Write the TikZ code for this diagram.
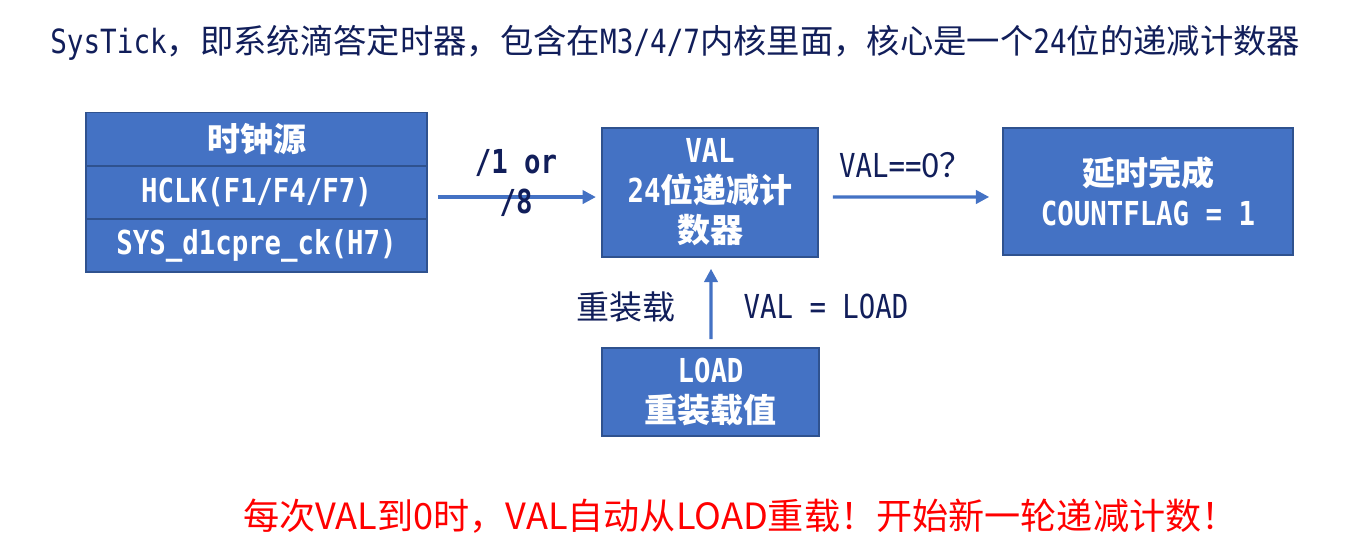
\documentclass[tikz,border=0pt]{standalone}
\usepackage{fontspec}
\setmainfont[FakeStretch=0.83]{DejaVu Sans Mono}
\newfontfamily\cjk{Noto Sans CJK SC}
\usetikzlibrary{arrows.meta}
\definecolor{boxblue}{HTML}{4472C4}
\definecolor{boxedge}{HTML}{2F528F}
\definecolor{navy}{HTML}{111E5A}
\newcommand\myfs{\fontsize{24.75pt}{30pt}\selectfont}
\newcommand\titlefs{\fontsize{25pt}{30pt}\selectfont}
\newcommand\bigfs{\fontsize{27.1pt}{33pt}\selectfont}
\tikzset{
  box/.style={draw=boxedge, line width=1.2pt, fill=boxblue, text=white, font=\myfs\bfseries, align=center, inner sep=0pt},
  arr/.style={draw=boxblue, line width=2.4pt, -{Triangle[length=10pt,width=10pt]}},
  lbl/.style={text=navy, font=\myfs, align=center, inner sep=0pt},
}
\begin{document}
\begin{tikzpicture}[x=0.75pt,y=-0.75pt]
\useasboundingbox (0,0) rectangle (1360,551);
% title
\node[lbl, anchor=west, font=\titlefs] (title) at (50,43) {SysTick{\cjk ，即系统滴答定时器，包含在}M3/4/7{\cjk 内核里面，核心是一个}24{\cjk 位的递减计数器}};
% clock source table
\node[box, minimum width=255.75pt, minimum height=40pt] (r1) at (256.5,139) {{\cjk 时钟源}};
\node[box, minimum width=255.75pt, minimum height=40pt] (r2) at (256.5,192.5) {HCLK(F1/F4/F7)};
\node[box, minimum width=255.75pt, minimum height=40pt] (r3) at (256.5,245.5) {SYS\_d1cpre\_ck(H7)};
% VAL box
\node[box, minimum width=162pt, minimum height=96.75pt] (val) at (710,192.5) {VAL\\24{\cjk 位递减计}\\{\cjk 数器}};
% result box
\node[box, minimum width=217.5pt, minimum height=95.25pt] (res) at (1148,191.5) {{\cjk 延时完成}\\COUNTFLAG = 1};
% LOAD box
\node[box, minimum width=162.75pt, minimum height=66pt] (load) at (710.5,392) {LOAD\\{\cjk 重装载值}};
% arrows
\draw[arr] ([xshift=7.5pt,yshift=-3.4pt]r2.east) -- ([xshift=-4pt,yshift=-3.4pt]val.west);
\draw[arr] ([xshift=10.5pt,yshift=-3.4pt]val.east) -- ([xshift=-9.75pt,yshift=-4.1pt]res.west);
\draw[arr] ([xshift=0.4pt,yshift=6pt]load.north) -- ([xshift=0.75pt,yshift=-8.25pt]val.south);
% labels
\node[lbl, font=\myfs\bfseries] (div) at (516,183) {/1 or\\/8};
\node[lbl] (cond) at (906,165) {VAL=={\cjk 0？}};
\node[lbl] (reload) at (626,307) {{\cjk 重装载}};
\node[lbl] (eq) at (826,306) {VAL = LOAD};
% bottom note
\node[anchor=west, inner sep=0pt, text=red, font=\bigfs\cjk] (note) at (243,516) {每次VAL到0时，VAL自动从LOAD重载！开始新一轮递减计数！};
\end{tikzpicture}
\end{document}
